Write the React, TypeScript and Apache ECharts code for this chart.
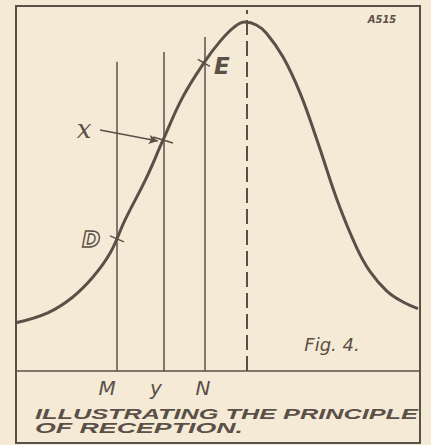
import React, { useEffect, useRef } from 'react';
import * as echarts from 'echarts';

// Resonance curve (x: 0..100 across the frame, y: 0..100 above the base line)
const curveX = [0, 8.0, 14.0, 19.1, 23.3, 27.0, 32.4, 36.4, 41.3, 46.5, 50.5, 54.0, 56.6, 59.5, 62.1, 66.1, 70.3, 74.5, 79.5, 84.4, 87.6, 91.8, 95.8, 99.5];
const curveY = [13.2, 16.0, 20.2, 25.8, 32.3, 41.4, 53.2, 63.3, 75.1, 84.4, 90.3, 94.2, 95.6, 94.8, 92.4, 86.0, 76.2, 63.3, 46.8, 33.6, 27.3, 21.9, 18.9, 17.1];

// Vertical station lines M, y, N
const markerNames = ['M', 'y', 'N'];
const markerX = [25.0, 36.6, 46.8];
const markerTop = [84.7, 87.4, 91.5];

// Resonance peak (dashed)
const peakX = 57.2;
const peakTop = 98.9;

// Points on the curve where the lines cross it
const pointNames = ['D', 'x', 'E'];
const pointX = [25.0, 36.4, 46.5];
const pointY = [36.2, 63.3, 84.4];

// Arrow from the "x" label to the curve
const arrowFrom = [20.8, 66.0];
const arrowTo = [35.1, 63.0];

const captionLines = ['ILLUSTRATING THE PRINCIPLE', 'OF RECEPTION.'];
const figLabel = 'Fig. 4.';
const refLabel = 'A515';

const INK = '#5a5048';
const BG = '#f5ead5';

export default function App() {
  const ref = useRef<HTMLDivElement>(null);

  useEffect(() => {
    document.body.style.margin = '0';
    document.body.style.background = BG;
    const chart = echarts.init(ref.current!, null, { renderer: 'svg' });

    const markData: any[] = [];
    markerX.forEach((x, i) => {
      markData.push([
        { coord: [x, 0], symbol: 'none' },
        { coord: [x, markerTop[i]], symbol: 'none', lineStyle: { color: INK, width: 1.5, type: 'solid' } },
      ]);
    });
    markData.push([
      { coord: [peakX, 0], symbol: 'none' },
      { coord: [peakX, peakTop], symbol: 'none', lineStyle: { color: INK, width: 2, type: [15, 6] } },
    ]);
    markData.push([
      { coord: arrowFrom, symbol: 'none' },
      { coord: arrowTo, symbol: 'arrow', lineStyle: { color: INK, width: 1.5, type: 'solid', curveness: 0.06 } },
    ]);

    chart.setOption({
      animation: false,
      backgroundColor: BG,
      grid: { left: 16, right: 11, top: 6, bottom: 74 },
      xAxis: {
        type: 'value', min: 0, max: 100,
        axisLine: { show: true, onZero: false, lineStyle: { color: INK, width: 1.5 } },
        axisTick: { show: false }, axisLabel: { show: false }, splitLine: { show: false },
      },
      yAxis: {
        type: 'value', min: 0, max: 100,
        axisLine: { show: false }, axisTick: { show: false }, axisLabel: { show: false }, splitLine: { show: false },
      },
      series: [
        {
          type: 'line',
          data: curveX.map((x, i) => [x, curveY[i]]),
          smooth: 0.4,
          showSymbol: false,
          lineStyle: { color: INK, width: 3 },
          z: 3,
          markLine: {
            silent: true,
            animation: false,
            symbolSize: [7, 9],
            label: { show: false },
            lineStyle: { color: INK, width: 1.5, type: 'solid' },
            data: markData,
          },
        },
      ],
    });

    const px = (x: number, y: number) => chart.convertToPixel({ xAxisIndex: 0, yAxisIndex: 0 }, [x, y]) as number[];
    const base = px(0, 0)[1];

    const canvas = document.createElement('canvas');
    const ctx = canvas.getContext('2d')!;
    const capFont = 'italic bold 15px "Liberation Sans"';
    ctx.font = capFont;
    const capTargets = [383, 208];

    const graphics: any[] = [];
    graphics.push({
      type: 'rect', shape: { x: 16, y: 6, width: 404, height: 437 },
      style: { fill: 'none', stroke: INK, lineWidth: 2 }, z: 10,
    });
    const labelDx = [-10, -8, -2];
    markerNames.forEach((name, i) => {
      const p = px(markerX[i], 0);
      graphics.push({
        type: 'text', x: p[0] + labelDx[i], y: base + 17, z: 10,
        style: { text: name, font: 'italic 20px "DejaVu Sans"', fill: INK, align: 'center', verticalAlign: 'middle' },
      });
    });
    const tickVec = [[7, 3], [10, 3], [6, 3.5]];
    pointNames.forEach((name, i) => {
      const p = px(pointX[i], pointY[i]);
      const t = tickVec[i];
      graphics.push({
        type: 'line', z: 10,
        shape: { x1: p[0] - t[0], y1: p[1] - t[1], x2: p[0] + t[0], y2: p[1] + t[1] },
        style: { stroke: INK, lineWidth: 1.5 },
      });
    });
    const pD = px(pointX[0], pointY[0]);
    graphics.push({
      type: 'text', x: pD[0] - 26, y: pD[1] + 1, z: 10,
      style: { text: pointNames[0], font: 'italic bold 22px "DejaVu Sans"', fill: 'rgba(0,0,0,0)', stroke: INK, lineWidth: 1.4, align: 'center', verticalAlign: 'middle' },
    });
    const pA = px(arrowFrom[0], arrowFrom[1]);
    graphics.push({
      type: 'text', x: pA[0] - 16, y: pA[1] - 1, z: 10,
      style: { text: pointNames[1], font: 'italic 26px "DejaVu Serif"', fill: INK, align: 'center', verticalAlign: 'middle' },
    });
    const pE = px(pointX[2], pointY[2]);
    graphics.push({
      type: 'text', x: pE[0] + 18, y: pE[1] + 3, z: 10,
      style: { text: pointNames[2], font: 'italic bold 23px "DejaVu Sans"', fill: INK, align: 'center', verticalAlign: 'middle' },
    });
    graphics.push({
      type: 'text', x: 332, y: 344, z: 10,
      style: { text: figLabel, font: 'italic 18px "DejaVu Sans"', fill: INK, align: 'center', verticalAlign: 'middle' },
    });
    graphics.push({
      type: 'text', x: 382, y: 19, z: 10,
      style: { text: refLabel, font: 'italic bold 10px "DejaVu Sans"', fill: INK, align: 'center', verticalAlign: 'middle' },
    });
    const capY = [414, 428];
    captionLines.forEach((line, i) => {
      const w = ctx.measureText(line).width || 1;
      graphics.push({
        type: 'text', x: 35, y: capY[i], z: 10, scaleX: capTargets[i] / w, scaleY: 1,
        style: { text: line, font: capFont, fill: INK, align: 'left', verticalAlign: 'middle', x: 0, y: 0 },
      });
    });

    chart.setOption({ graphic: graphics });

    return () => chart.dispose();
  }, []);

  return <div ref={ref} style={{ width: 431, height: 445 }} />;
}
